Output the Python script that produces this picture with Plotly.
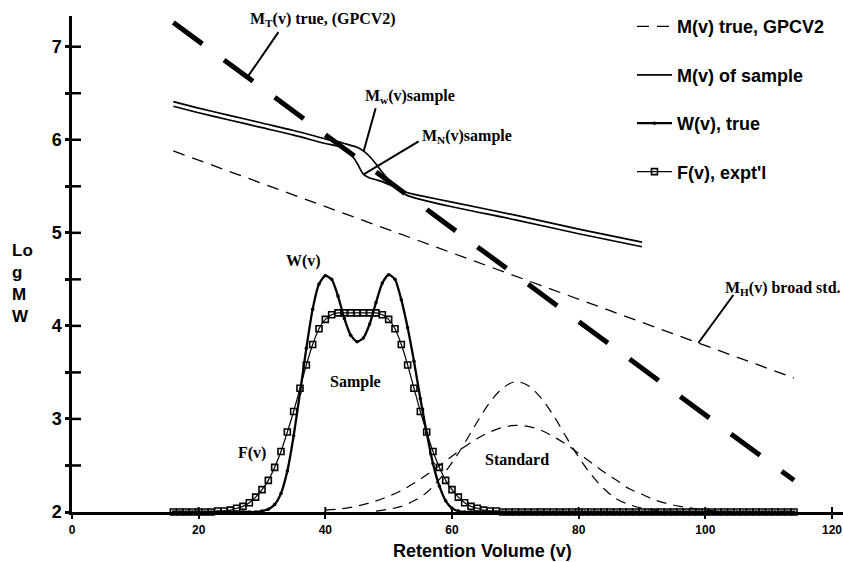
import numpy as np
import plotly.graph_objects as go

# ---- calibration lines: log MW against retention volume ----
cal_v = [16, 114]
mt_true = [7.26, 2.34]      # M_T(v) true (GPCV2), heavy dashed line
mh_broad = [5.88, 3.44]     # M_H(v) from the broad standard, light dashed line

# ---- local molecular weight of the sample ----
m_v = [16, 20, 25, 30, 35, 40, 42, 43, 44, 45, 46, 47, 48, 49, 50, 51, 52, 53, 55, 60, 70, 80, 90]
mw_sample = [6.41, 6.34, 6.26, 6.18, 6.10, 6.01, 5.98, 5.96, 5.94, 5.92, 5.88, 5.82, 5.74,
             5.65, 5.57, 5.51, 5.46, 5.43, 5.40, 5.33, 5.19, 5.04, 4.90]
mn_sample = [6.36, 6.29, 6.21, 6.13, 6.05, 5.96, 5.93, 5.90, 5.85, 5.75, 5.63, 5.59, 5.57,
             5.55, 5.52, 5.49, 5.44, 5.40, 5.36, 5.28, 5.14, 4.99, 4.85]

# ---- chromatograms (plotted on the same axis, baseline at 2) ----
dist_v = list(range(16, 115))
w_true = ([2.00] * 14 +
          [2.01, 2.03, 2.08, 2.20, 2.44, 2.82, 3.28, 3.76, 4.18, 4.45,
           4.54, 4.50, 4.32, 4.08, 3.90, 3.83, 3.87, 4.02, 4.25, 4.46,
           4.55, 4.50, 4.28, 3.98, 3.62, 3.22, 2.85, 2.52, 2.28, 2.12,
           2.04, 2.01] +
          [2.00] * 53)
f_expt = ([2.00] * 7 +
          [2.01, 2.01, 2.02, 2.04, 2.06, 2.10, 2.16, 2.24, 2.34, 2.48,
           2.65, 2.86, 3.08, 3.33, 3.58, 3.80, 3.97, 4.07, 4.12, 4.14,
           4.14, 4.14, 4.14, 4.14, 4.14, 4.14, 4.12, 4.07, 3.97, 3.80,
           3.58, 3.33, 3.08, 2.86, 2.65, 2.48, 2.34, 2.24, 2.16, 2.10,
           2.06, 2.04, 2.02, 2.01, 2.01] +
          [2.00] * 47)

# ---- standard chromatograms ----
std_broad_v = list(range(40, 105, 2))
std_broad = [2.02, 2.03, 2.05, 2.08, 2.12, 2.17, 2.23, 2.31, 2.40, 2.50,
             2.60, 2.70, 2.79, 2.86, 2.91, 2.93, 2.92, 2.88, 2.81, 2.73,
             2.63, 2.53, 2.43, 2.34, 2.25, 2.19, 2.13, 2.09, 2.06, 2.04,
             2.02, 2.01, 2.00]
std_narrow_v = list(range(48, 97, 2))
std_narrow = [2.01, 2.03, 2.06, 2.12, 2.21, 2.35, 2.53, 2.74, 2.97, 3.18,
              3.33, 3.40, 3.36, 3.23, 3.04, 2.81, 2.59, 2.40, 2.25, 2.14,
              2.08, 2.04, 2.02, 2.01, 2.00]

x_ticks = [0, 20, 40, 60, 80, 100, 120]
y_ticks = [2, 3, 4, 5, 6, 7]
y_minor = [2.5, 3.5, 4.5, 5.5, 6.5]

X_RANGE = [0, 121.74]
Y_RANGE = [2, 7.33]

SANS = "Liberation Sans"
SERIF = "Liberation Serif"

fig = go.Figure()

fig.add_trace(go.Scatter(
    x=cal_v, y=mt_true, mode="lines", showlegend=False,
    line=dict(color="black", width=5, dash="36px,27px")))

fig.add_trace(go.Scatter(
    x=cal_v, y=mh_broad, mode="lines", name="M(v) true, GPCV2",
    legendgroup="g1", legendrank=1,
    line=dict(color="black", width=1.3, dash="12px,8px")))

fig.add_trace(go.Scatter(
    x=m_v, y=mw_sample, mode="lines", name="M(v) of sample",
    legendgroup="g2", legendrank=2,
    line=dict(color="black", width=1.7, shape="spline", smoothing=0.8)))
fig.add_trace(go.Scatter(
    x=m_v, y=mn_sample, mode="lines", showlegend=False, legendgroup="g2",
    line=dict(color="black", width=1.7, shape="spline", smoothing=0.8)))

fig.add_trace(go.Scatter(
    x=dist_v, y=w_true, mode="lines+markers", name="W(v), true",
    legendgroup="g3", legendrank=3, cliponaxis=False,
    line=dict(color="black", width=2.3, shape="spline", smoothing=0.6),
    marker=dict(symbol="circle", size=3.5, color="black")))

fig.add_trace(go.Scatter(
    x=dist_v, y=f_expt, mode="lines+markers", name="F(v), expt'l",
    legendgroup="g4", legendrank=4, cliponaxis=False,
    line=dict(color="black", width=1.2, shape="spline", smoothing=0.6),
    marker=dict(symbol="square-open", size=6, color="black",
                line=dict(color="black", width=1.6))))

for sv, sy in ((std_broad_v, std_broad), (std_narrow_v, std_narrow)):
    fig.add_trace(go.Scatter(
        x=sv, y=sy, mode="lines", showlegend=False,
        line=dict(color="black", width=1.2, dash="10px,7px", shape="spline")))

# ---- text labels ----
lbl_font = dict(family=SERIF, size=16, color="black", weight="bold")
annotations = [
    dict(x=27.8, y=7.29, xanchor="left", yanchor="middle",
         text="M<sub>T</sub>(v) true, (GPCV2)"),
    dict(x=45.95, y=6.47, xanchor="left", yanchor="middle",
         text="M<sub>w</sub>(v)sample"),
    dict(x=54.95, y=6.04, xanchor="left", yanchor="middle",
         text="M<sub>N</sub>(v)sample"),
    dict(x=102.8, y=4.40, xanchor="left", yanchor="middle",
         text="M<sub>H</sub>(v) broad std."),
    dict(x=36.6, y=4.70, text="W(v)"),
    dict(x=44.7, y=3.40, text="Sample"),
    dict(x=28.4, y=2.63, text="F(v)"),
    dict(x=70.3, y=2.56, text="Standard"),
]
for a in annotations:
    a.update(xref="x", yref="y", showarrow=False, font=lbl_font)

# axis titles
annotations.append(dict(
    x=0.533, y=-0.0786, xref="paper", yref="paper", showarrow=False,
    xanchor="center", yanchor="middle",
    text="Retention Volume (v)",
    font=dict(family=SANS, size=18, color="black", weight="bold")))
annotations.append(dict(
    x=-0.0804, y=0.46, xref="paper", yref="paper", showarrow=False,
    xanchor="left", yanchor="middle", align="left",
    text="Lo<br>g<br>M<br>W",
    font=dict(family=SANS, size=17, color="black", weight="bold")))


# leader lines from a label down to the curve it names
def leader(xv, xs, ys, dx, dy):
    yv = float(np.interp(xv, xs, ys))
    return dict(type="line", xref="x", yref="y",
                xsizemode="pixel", xanchor=xv, x0=0, x1=dx,
                ysizemode="pixel", yanchor=yv, y0=0, y1=dy,
                line=dict(color="black", width=2))


shapes = [
    leader(27.7, cal_v, mt_true, 31, 45),
    leader(46.05, m_v, mw_sample, 12, 43),
    leader(46.05, m_v, mn_sample, 55, 33),
    leader(98.9, cal_v, mh_broad, 35, 48),
]


def bar(**kw):
    d = dict(type="rect", xref="x", yref="y", fillcolor="black",
             line=dict(width=0), layer="above")
    d.update(kw)
    return d


# inward halves of the tick marks (the outward halves come from the axes)
for t in y_ticks[1:] + y_minor:
    shapes.append(bar(xsizemode="pixel", xanchor=0, x0=0, x1=9,
                      ysizemode="pixel", yanchor=t, y0=-1.25, y1=1.25))
for t in x_ticks[1:]:
    shapes.append(bar(xsizemode="pixel", xanchor=t, x0=-1, x1=1,
                      ysizemode="pixel", yanchor=y_ticks[0], y0=0, y1=5))

fig.update_layout(
    width=843, height=562,
    margin=dict(l=72, r=0, t=16, b=50, pad=0),
    paper_bgcolor="white", plot_bgcolor="white",
    annotations=annotations,
    shapes=shapes,
    legend=dict(x=0.7263, y=1.0157, xanchor="left", yanchor="top",
                font=dict(family=SANS, size=18, color="black", weight="bold"),
                tracegroupgap=22, itemwidth=35, bgcolor="rgba(0,0,0,0)"),
    xaxis=dict(range=X_RANGE, tickmode="array", tickvals=x_ticks,
               ticks="outside", ticklen=4, tickwidth=2, tickcolor="black",
               showline=True, linewidth=2.5, linecolor="black",
               showgrid=False, zeroline=False, automargin=False,
               ticklabelstandoff=1,
               tickfont=dict(family=SANS, size=12, color="black", weight="bold")),
    yaxis=dict(range=Y_RANGE, tickmode="array", tickvals=y_ticks,
               ticks="outside", ticklen=4, tickwidth=2.5, tickcolor="black",
               minor=dict(tickmode="array", tickvals=y_minor, ticks="outside",
                          ticklen=4, tickwidth=2.5, tickcolor="black"),
               showline=True, linewidth=2.5, linecolor="black",
               showgrid=False, zeroline=False, automargin=False,
               tickfont=dict(family=SANS, size=18, color="black", weight="bold")),
)

fig.write_html("out.html")
